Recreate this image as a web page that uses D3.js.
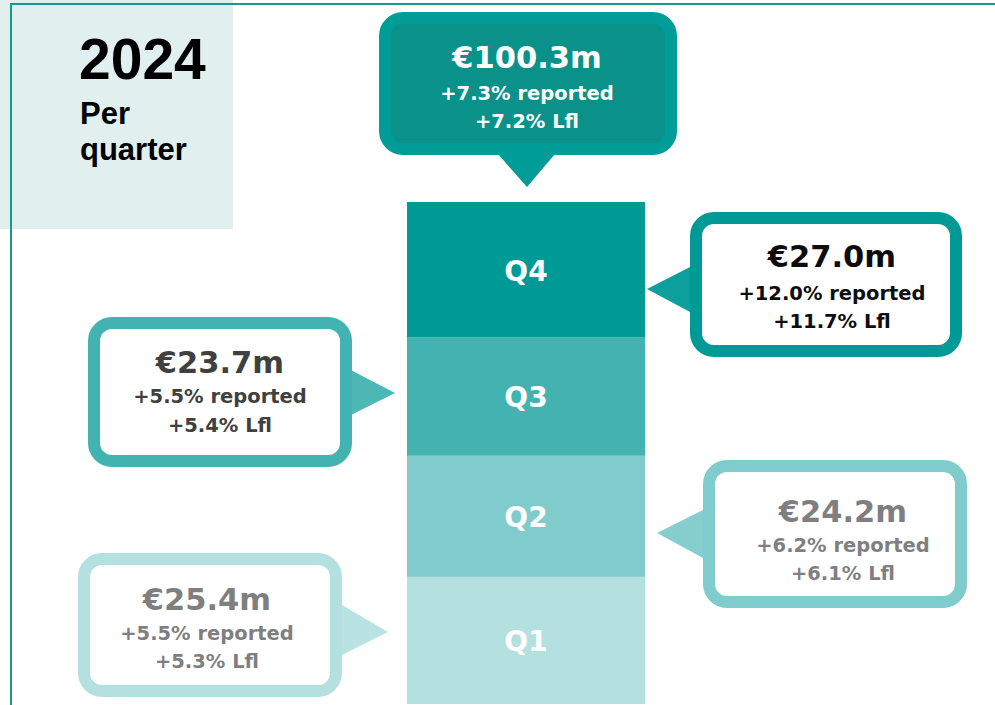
<!DOCTYPE html>
<html>
<head>
<meta charset="utf-8">
<script src="https://cdn.jsdelivr.net/npm/d3@7"></script>
<style>
  html, body { margin: 0; padding: 0; background: #fff; }
  svg { display: block; }
</style>
</head>
<body>
<div id="chart"></div>
<script>
// datos del grafico
const quarters = ["Q1", "Q2", "Q3", "Q4"];
const values = [25.4, 24.2, 23.7, 27.0];
const reported = ["+5.5%", "+6.2%", "+5.5%", "+12.0%"];
const lfl = ["+5.3%", "+6.1%", "+5.4%", "+11.7%"];
const total = 100.3;
const totalReported = "+7.3%";
const totalLfl = "+7.2%";

const W = 995, H = 705;
const fillColors = ["#b5e0e0", "#80cbcb", "#43b3b1", "#009a96"];
const textColors = ["#7f7f7f", "#7f7f7f", "#404040", "#0d0d0d"];
const font = "'DejaVu Sans', sans-serif";

// disposicion de los globos (caja, punta y base del triangulo)
const callouts = [
  { box: [78, 553, 264, 144], tx: 207, base: [342, 605, 655], tip: [388, 632], lines: [57, 87, 115] },
  { box: [703, 460, 264, 148], tx: 843, base: [703, 510, 558], tip: [657, 533], lines: [62, 92, 120] },
  { box: [88, 317, 264, 150], tx: 220, base: [345, 367, 418], tip: [395, 393], lines: [56, 86, 115] },
  { box: [690, 212, 272, 145], tx: 832, base: [690, 267, 312], tip: [647, 289], lines: [55, 88, 116] }
];

const svg = d3.select("#chart").append("svg").attr("width", W).attr("height", H);

// cuadro del titulo
svg.append("rect").attr("x", 0).attr("y", 0).attr("width", 233).attr("height", 229).attr("fill", "#e1f0ef");
svg.append("line").attr("x1", 10).attr("x2", W).attr("y1", 4).attr("y2", 4)
  .attr("stroke", "#17998d").attr("stroke-width", 2);
svg.append("line").attr("x1", 11).attr("x2", 11).attr("y1", 4).attr("y2", H)
  .attr("stroke", "#17998d").attr("stroke-width", 2);

const title = svg.append("g").attr("font-family", "'Liberation Sans', Arial, sans-serif")
  .attr("font-weight", "bold").attr("fill", "#000");
title.append("text").attr("x", 79).attr("y", 79).attr("font-size", 57).text("2024");
title.append("text").attr("x", 80).attr("y", 124).attr("font-size", 31).text("Per");
title.append("text").attr("x", 80).attr("y", 160).attr("font-size", 31).text("quarter");

// escalas
const x = d3.scaleBand().domain(["2024"]).range([407, 645]).padding(0);
const y = d3.scaleLinear().domain([0, total]).range([704, 202]);

const cum = d3.cumsum(values);
const stacked = quarters.map((q, i) => ({ q, v: values[i], y0: cum[i] - values[i], y1: cum[i], i }));

// barra apilada
const seg = svg.append("g").selectAll("g").data(stacked).join("g");
seg.append("rect")
  .attr("x", x("2024"))
  .attr("width", x.bandwidth())
  .attr("y", (d) => y(d.y1))
  .attr("height", (d) => y(d.y0) - y(d.y1))
  .attr("fill", (d) => fillColors[d.i]);
seg.append("text")
  .attr("x", x("2024") + x.bandwidth() / 2)
  .attr("y", (d) => (y(d.y0) + y(d.y1)) / 2 + 11)
  .attr("text-anchor", "middle")
  .attr("font-family", font).attr("font-weight", "bold").attr("font-size", 28)
  .attr("fill", "#fff")
  .text((d) => d.q);

// globos de cada trimestre
const drawCallout = (g, c, stroke, fill, color, lines) => {
  const [bx, by, bw, bh] = c.box;
  g.append("rect")
    .attr("x", bx + 6).attr("y", by + 6).attr("width", bw - 12).attr("height", bh - 12)
    .attr("rx", 18).attr("fill", fill).attr("stroke", stroke).attr("stroke-width", 12);
  g.append("path")
    .attr("d", `M${c.base[0]},${c.base[1]}L${c.tip[0]},${c.tip[1]}L${c.base[0]},${c.base[2]}Z`)
    .attr("fill", stroke).attr("opacity", 0.95);
  const sizes = [30.5, 19.5, 19.5];
  lines.forEach((t, k) => {
    g.append("text")
      .attr("x", c.tx).attr("y", by + c.lines[k])
      .attr("text-anchor", "middle")
      .attr("font-family", font).attr("font-weight", "bold")
      .attr("font-size", sizes[k]).attr("fill", color)
      .text(t);
  });
};

stacked.forEach((d) => {
  const c = callouts[d.i];
  drawCallout(svg.append("g"), c, fillColors[d.i], "#fff", textColors[d.i],
    [`€${d.v.toFixed(1)}m`, `${reported[d.i]} reported`, `${lfl[d.i]} Lfl`]);
});

// globo del total anual
drawCallout(svg.append("g"),
  { box: [379, 12, 298, 143], tx: 527, base: [555, 155, 155], tip: [527, 187], lines: [56, 88, 116] },
  "#009c97", "#09918a", "#fff",
  [`€${total.toFixed(1)}m`, `${totalReported} reported`, `${totalLfl} Lfl`]);
// triangulo inferior del total
svg.append("path").attr("d", "M498,154L527,187L555,154Z").attr("fill", "#009c97");
</script>
</body>
</html>
